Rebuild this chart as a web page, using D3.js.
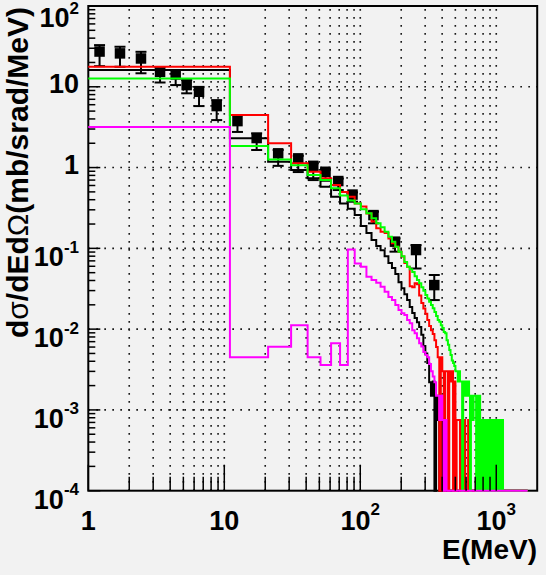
<!DOCTYPE html>
<html>
<head>
<meta charset="utf-8">
<script src="https://cdn.jsdelivr.net/npm/d3@7"></script>
<style>
  html, body { margin: 0; padding: 0; background: #f2f2f2; }
  svg { display: block; }
  text { font-family: "Liberation Sans", Arial, Helvetica, sans-serif; font-weight: bold; fill: #000; }
</style>
</head>
<body>
<svg id="chart" width="546" height="575"></svg>
<script>
// Histogram axis: 10 MeV bins starting at 1 MeV
const binLow = 1;
const binWidth = 10;
const binCount = 170;

// Bin contents (mb/srad/MeV), bin k covers [1+10k, 11+10k) MeV; bins past the list are empty
const blackHist = [
  16.1, 2.30, 1.18, 0.93, 0.735, 0.578, 0.435, 0.36, 0.31, 0.258,
  0.189, 0.155, 0.127, 0.107, 0.095, 0.080, 0.066, 0.057, 0.048, 0.038,
  0.032, 0.027, 0.0229, 0.0188, 0.0158, 0.0137, 0.0122, 0.0106, 0.0085, 0.0062,
  0.0050, 0.0038, 0.0022, 0.0015, 0.00225, 0, 0.0015, 0.00075, 0, 0.00075
];
const redHist = [
  17.7, 4.47, 2.0, 1.13, 0.887, 0.735, 0.607, 0.50, 0.435, 0.36,
  0.33, 0.27, 0.215, 0.177, 0.161, 0.155, 0.132, 0.116, 0.105, 0.091,
  0.079, 0.066, 0.059, 0.034, 0.033, 0.037, 0.036, 0.026, 0.021, 0.018,
  0.0155, 0.013, 0.0109, 0.0097, 0.0087, 0.0073, 0.0060, 0.0045, 0, 0.0045,
  0.003, 0, 0.003, 0.003, 0, 0.003, 0.00225, 0.003, 0, 0.00225,
  0, 0.00075, 0.00075, 0.00075, 0, 0.00075, 0.00075, 0, 0.00075, 0,
  0, 0, 0.00075, 0, 0, 0, 0, 0, 0, 0,
  0, 0, 0, 0, 0, 0, 0, 0, 0, 0,
  0, 0, 0, 0, 0, 0.00075, 0.00075, 0.00075, 0.00075, 0.00075,
  0.00075, 0.00075, 0.00075, 0.00075, 0, 0.00075, 0.00075, 0.00075, 0.00075, 0.00075,
  0.00075, 0.00075
];
const greenHist = [
  12.7, 1.85, 1.26, 1.07, 0.81, 0.70, 0.553, 0.45, 0.39, 0.36,
  0.304, 0.271, 0.235, 0.204, 0.182, 0.160, 0.139, 0.121, 0.105, 0.091,
  0.080, 0.068, 0.059, 0.055, 0.051, 0.045, 0.0405, 0.0369, 0.0329, 0.0299,
  0.0264, 0.024, 0.0218, 0.0199, 0.0181, 0.0163, 0.0145, 0.0130, 0.0123, 0.0112,
  0.0103, 0.0092, 0.0089, 0.0073, 0.0064, 0.0055, 0.0048, 0.0041, 0.0038, 0.0035,
  0.003, 0.003, 0.00225, 0.003, 0.00225, 0.00225, 0, 0.00225, 0.0015, 0.00225,
  0.0015, 0.0015, 0.00225, 0.0015, 0, 0.0015, 0.0015, 0.00075, 0.0015, 0.0015,
  0.0015, 0, 0.0015, 0, 0.00075, 0.0015, 0, 0.00075, 0, 0.00075,
  0.00075, 0, 0.00075, 0, 0.00075, 0, 0.00075, 0.00075, 0, 0.00075,
  0, 0.00075, 0, 0.00075, 0.00075, 0, 0.00075, 0, 0.00075, 0,
  0.00075, 0, 0.00075, 0.00075, 0, 0.00075, 0, 0.00075, 0.00075, 0,
  0.00075, 0.00075
];
const magentaHist = [
  3.17, 0.0045, 0.00605, 0.0112, 0.0045, 0.0036, 0.0067, 0.0036, 0.097, 0.065,
  0.059, 0.0445, 0.0405, 0.0375, 0.0335, 0.029, 0.025, 0.0229, 0.0199, 0.0172,
  0.0157, 0.0150, 0.0130, 0.0118, 0.0097, 0.0089, 0.0077, 0.0067, 0.0061, 0.0052,
  0.0048, 0.0045, 0.0037, 0.0030, 0.0026, 0.0022, 0.0015, 0.0015, 0.00075, 0.0015,
  0.00075, 0, 0.00075
];

// Measured points: energy (MeV), value, lower and upper error
const ptE = [1.21, 1.71, 2.44, 3.37, 4.39, 5.29, 6.52, 8.79, 12.5, 17.3,
             24.9, 35.0, 45.1, 55.5, 68.9, 87.7, 125, 180, 257, 350];
const ptV = [27.3, 25.9, 22.4, 15.3, 14.2, 10.5, 8.67, 5.77, 3.76, 2.32,
             1.50, 1.30, 1.05, 0.887, 0.681, 0.463, 0.258, 0.121, 0.0953, 0.0351];
const ptErrLo = [9.3, 8.2, 7.7, 4.0, 3.7, 2.2, 2.9, 1.9, 1.0, 0.67,
                 0.45, 0.42, 0.35, 0.2, 0.154, 0.085, 0.054, 0.030, 0.039, 0.0122];
const ptErrHi = [5.5, 5.4, 4.7, 2.1, 1.9, 1.6, 1.3, 1.07, 0.7, 0.33,
                 0.15, 0.1, 0.08, 0.07, 0.05, 0.03, 0.026, 0.012, 0.0147, 0.0117];

// Axis ticks and labels
const xDecades = [1, 10, 100, 1000];
const xLabels = [["1", ""], ["10", ""], ["10", "2"], ["10", "3"]];
const yDecades = [1e-4, 1e-3, 1e-2, 1e-1, 1, 10, 100];
const yLabels = [["10", "-4"], ["10", "-3"], ["10", "-2"], ["10", "-1"], ["1", ""], ["10", ""], ["10", "2"]];
const xTitle = "E(MeV)";

const svg = d3.select("#chart");
const W = 546, H = 575;
svg.append("rect").attr("width", W).attr("height", H).attr("fill", "#f2f2f2");

const x = d3.scaleLog().domain([1, 2000]).range([88.3, 537.2]);
const y = d3.scaleLog().domain([1e-4, 100]).range([490.7, 6]);
const [x0, x1] = x.range();
const [yB, yT] = y.range();

// minor positions within each decade
const xMinor = [];
[1, 10, 100, 1000].forEach(d => { for (let m = 2; m <= 9; m++) { const v = m * d; if (v < 2000) xMinor.push(v); } });
const yMinor = [];
[1e-4, 1e-3, 1e-2, 1e-1, 1, 10].forEach(d => { for (let m = 2; m <= 9; m++) yMinor.push(m * d); });

// dotted grid
const grid = svg.append("g").attr("stroke", "#1a1a1a").attr("stroke-width", 1.6)
  .attr("stroke-dasharray", "1.7,6.3");
xDecades.concat(xMinor).filter(v => v > 1 && v < 2000).forEach(v => {
  grid.append("line").attr("x1", x(v)).attr("x2", x(v)).attr("y1", yB).attr("y2", yT);
});
yDecades.filter(v => v > 1e-4 && v < 100).forEach(v => {
  grid.append("line").attr("x1", x0).attr("x2", x1).attr("y1", y(v)).attr("y2", y(v));
});

// measured points with error bars
const pts = svg.append("g");
const capW = 11, mk = 10.5;
ptE.forEach((e, i) => {
  const cx = x(e), cy = y(ptV[i]);
  const yl = y(ptV[i] - ptErrLo[i]), yh = y(ptV[i] + ptErrHi[i]);
  pts.append("line").attr("x1", cx).attr("x2", cx).attr("y1", yh).attr("y2", yl)
    .attr("stroke", "#000").attr("stroke-width", 2);
  [yh, yl].forEach(yy => pts.append("line").attr("x1", cx - capW / 2).attr("x2", cx + capW / 2)
    .attr("y1", yy).attr("y2", yy).attr("stroke", "#000").attr("stroke-width", 2));
  pts.append("rect").attr("x", cx - mk / 2).attr("y", cy - mk / 2).attr("width", mk).attr("height", mk)
    .attr("fill", "#000");
});

// frame
svg.append("rect").attr("x", x0).attr("y", yT).attr("width", x1 - x0).attr("height", yB - yT)
  .attr("fill", "none").attr("stroke", "#000").attr("stroke-width", 2);

// step histograms
function histPath(values) {
  const edge = k => binLow + k * binWidth;
  const yOf = v => (v > 0 ? y(v) : yB);
  const p = [];
  for (let k = 0; k < binCount; k++) {
    const v = k < values.length ? values[k] : 0;
    const yy = yOf(v);
    p.push([x(edge(k)), yy], [x(edge(k + 1)), yy]);
  }
  p.push([x(edge(binCount)), yB]);
  return d3.line()(p);
}
[[blackHist, "#000000"], [redHist, "#ff0000"], [greenHist, "#00ff00"], [magentaHist, "#ff00ff"]]
  .forEach(([vals, col]) => {
    svg.append("path").attr("d", histPath(vals)).attr("fill", "none")
      .attr("stroke", col).attr("stroke-width", 2).attr("stroke-linejoin", "miter");
  });

// ticks
const ticks = svg.append("g").attr("stroke", "#000").attr("stroke-width", 1.5);
xDecades.forEach(v => ticks.append("line").attr("x1", x(v)).attr("x2", x(v)).attr("y1", yB).attr("y2", yB - 26));
xMinor.forEach(v => ticks.append("line").attr("x1", x(v)).attr("x2", x(v)).attr("y1", yB).attr("y2", yB - 14));
yDecades.forEach(v => ticks.append("line").attr("x1", x0).attr("x2", x0 + 12).attr("y1", y(v)).attr("y2", y(v)));
yMinor.forEach(v => ticks.append("line").attr("x1", x0).attr("x2", x0 + 7).attr("y1", y(v)).attr("y2", y(v)));

// tick labels
function label(g, base, sup, supDy) {
  g.append("tspan").text(base);
  if (sup) g.append("tspan").attr("font-size", 17).attr("dy", supDy).text(sup);
}
xDecades.forEach((v, i) => {
  const t = svg.append("text").attr("x", x(v)).attr("y", 530).attr("text-anchor", "middle")
    .attr("font-size", 27);
  label(t, xLabels[i][0], xLabels[i][1], -15);
});
yDecades.forEach((v, i) => {
  const hasExp = yLabels[i][1] !== "";
  // keep the exponent of the topmost label inside the page
  const base = hasExp ? Math.max(y(v) + 18, 27) : y(v) + 6.5;
  const t = svg.append("text").attr("x", 79).attr("y", base)
    .attr("text-anchor", "end").attr("font-size", 27);
  label(t, yLabels[i][0], yLabels[i][1], -13.5);
});

// axis titles
svg.append("text").attr("x", 537).attr("y", 559).attr("text-anchor", "end")
  .attr("font-size", 28).text(xTitle);

const yt = svg.append("text").attr("transform", "translate(27.5,7) rotate(-90)")
  .attr("text-anchor", "end").attr("font-size", 30);
yt.append("tspan").text("d");
yt.append("tspan").attr("font-weight", "normal").text("σ");
yt.append("tspan").text("/dEd");
yt.append("tspan").attr("font-weight", "normal").text("Ω");
yt.append("tspan").text("(mb/srad/MeV)");
</script>
</body>
</html>
